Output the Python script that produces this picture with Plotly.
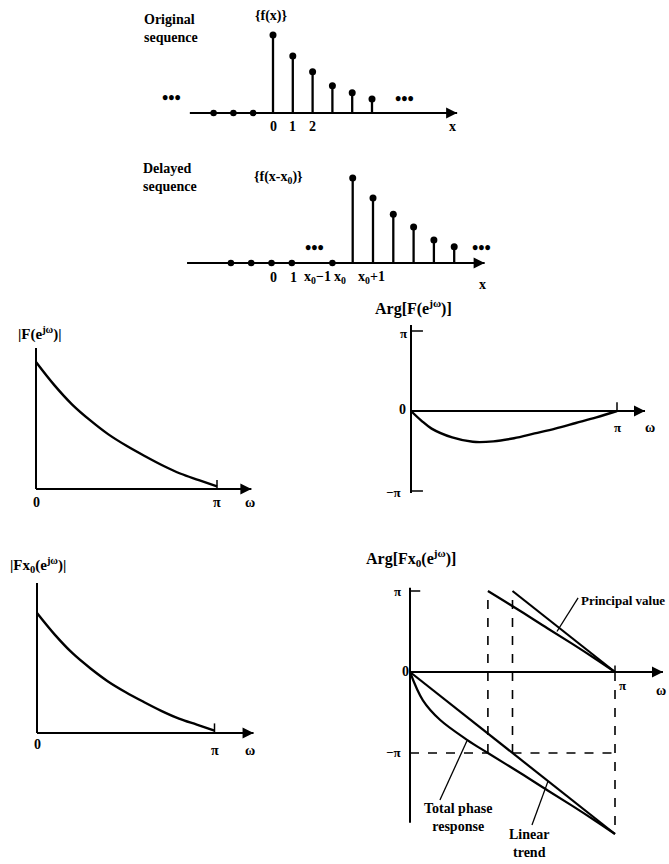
import numpy as np
import plotly.graph_objects as go

W, H = 669, 864

# ---------------- data ----------------
# original sequence f(x)
n_orig = [0, 1, 2, 3, 4, 5]
f_orig = [1.0, 0.73, 0.53, 0.35, 0.26, 0.18]
n_orig_zero = [-3, -2, -1]

# delayed sequence f(x - x0), with x0 = 4
x0 = 4
n_delay = [4, 5, 6, 7, 8, 9]
f_delay = [1.0, 0.765, 0.575, 0.425, 0.27, 0.19]
n_delay_zero = [-2, -1, 0, 1, 3]

# frequency axis in units of pi
w_mag = [0, 0.1, 0.2, 0.3, 0.4, 0.5, 0.6, 0.7, 0.8, 0.9, 1.0]
mag = [1.0, 0.82, 0.665, 0.54, 0.43, 0.34, 0.26, 0.185, 0.12, 0.07, 0.02]

w_arg = [0, 0.05, 0.1, 0.2, 0.3, 0.4, 0.5, 0.6, 0.7, 0.8, 0.9, 1.0]
arg_f = [0, -0.12, -0.22, -0.33, -0.385, -0.38, -0.34, -0.28, -0.22, -0.15, -0.08, 0]

# phase of the delayed sequence (units of pi)
w_total = [0, 0.063, 0.146, 0.28, 0.38, 0.54, 0.67, 0.79, 0.9, 1.0]
total_phase = [0, -0.35, -0.59, -0.84, -1.0, -1.25, -1.46, -1.65, -1.83, -2.0]

w_lin = [0, 0.5, 1.0]
lin_phase = [0, -1.0, -2.0]

# ---------------- helpers ----------------
FONT = "Liberation Serif"
BLACK = "black"


def frame(x_px, x_scale, y_px, y_scale):
    """Axis ranges so that data 0 lands on pixel (x_px, y_px) of the page."""
    xr = [-x_px / x_scale, (W - x_px) / x_scale]
    yr = [(y_px - H) / y_scale, y_px / y_scale]
    return xr, yr


panels = {
    1: frame(273, 19.8, 113, 78),     # original sequence
    2: frame(271.5, 20.3, 263, 85),   # delayed sequence
    3: frame(36, 181, 489, 127),      # |F|
    4: frame(411, 206, 411, 80),      # Arg F
    5: frame(37, 177.5, 733, 120),    # |Fx0|
    6: frame(410, 205, 672, 81),      # Arg Fx0
}

fig = go.Figure()


def ax(i):
    return ("x" if i == 1 else f"x{i}"), ("y" if i == 1 else f"y{i}")


def line(i, xs, ys, width=2.0, dash=None, shape="linear"):
    xa, ya = ax(i)
    fig.add_trace(go.Scatter(
        x=xs, y=ys, mode="lines", xaxis=xa, yaxis=ya, hoverinfo="skip",
        line=dict(color=BLACK, width=width, dash=dash, shape=shape, smoothing=1.0),
        showlegend=False))


def dots(i, xs, ys, size=6.5, symbol="circle"):
    xa, ya = ax(i)
    fig.add_trace(go.Scatter(
        x=xs, y=ys, mode="markers", xaxis=xa, yaxis=ya, hoverinfo="skip",
        marker=dict(color=BLACK, size=size, symbol=symbol, line=dict(width=0)),
        showlegend=False))


def stems(i, n, h):
    xs, ys = [], []
    for a, b in zip(n, h):
        xs += [a, a, None]
        ys += [0, b, None]
    line(i, xs, ys, width=2.3)
    dots(i, n, h, size=7)


def axis_arrow(i, x_from, x_to, width=1.8):
    """Horizontal axis line ending in an arrowhead."""
    line(i, [x_from, x_to], [0, 0], width=width)
    dots(i, [x_to], [0], size=11, symbol="arrow-right")


annotations = []


def text(s, px, py, size=14, xanchor="center", align="center", xref="paper", xval=None):
    annotations.append(dict(
        x=(px / W) if xval is None else xval, y=1 - py / H, xref=xref, yref="paper",
        text=s, showarrow=False, xanchor=xanchor, yanchor="middle", align=align,
        font=dict(family=FONT, size=size, color=BLACK, weight="bold")))


ELL = "•••"

# ---------------- panel 1: original sequence ----------------
axis_arrow(1, -4.2, 9.3)
stems(1, n_orig, f_orig)
dots(1, n_orig_zero, [0] * len(n_orig_zero))
text("Original<br>sequence", 142, 29, size=14, xanchor="left", align="left")
text("{f(x)}", 271, 16, size=14)
text(ELL, 171, 98, size=18)
text(ELL, 404, 99, size=18)
for k in n_orig[:3]:
    text(str(k), 0, 127, size=14, xref="x", xval=k)
text("x", 452, 127, size=14)

# ---------------- panel 2: delayed sequence ----------------
axis_arrow(2, -4.16, 10.5)
stems(2, n_delay, f_delay)
dots(2, n_delay_zero, [0] * len(n_delay_zero))
text("Delayed<br>sequence", 141, 177, size=14, xanchor="left", align="left")
text("{f(x-x<sub>0</sub>)}", 278, 178, size=14)
text(ELL, 314, 248, size=18)
text(ELL, 481, 248, size=18)
for s, p in [("0", 273), ("1", 293), ("x<sub>0</sub>−1", 317),
             ("x<sub>0</sub>", 340), ("x<sub>0</sub>+1", 371)]:
    text(s, p, 277, size=14)
text("x", 482, 284, size=14)

# ---------------- panel 3: |F| ----------------
line(3, [0, 0], [0, 1.11])
axis_arrow(3, 0, 1.19)
line(3, [1, 1], [0, 0.07], width=1.5)
line(3, w_mag, mag, width=2.4, shape="spline")
text("|F(e<sup>jω</sup>)|", 40, 333, size=15)
text("0", 36, 502, size=14)
text("π", 217, 502, size=14)
text("ω", 250, 502, size=14)

# ---------------- panel 4: Arg F ----------------
line(4, [0, 0], [-1.025, 1.075])
line(4, [0, 0.058], [1, 1], width=1.5)
line(4, [0, 0.058], [-1, -1], width=1.5)
axis_arrow(4, 0, 1.136)
line(4, [1, 1], [0, 0.11], width=1.5)
line(4, w_arg, arg_f, width=2.4, shape="spline")
text("Arg[F(e<sup>jω</sup>)]", 413, 308, size=16)
text("π", 403, 333, size=13)
text("−π", 393, 492, size=13)
text("0", 402, 410, size=14)
text("π", 617, 427, size=13)
text("ω", 650, 427, size=14)

# ---------------- panel 5: |Fx0| ----------------
line(5, [0, 0], [0, 1.25])
axis_arrow(5, 0, 1.22)
line(5, [1, 1], [0, 0.08], width=1.5)
line(5, w_mag, mag, width=2.4, shape="spline")
text("|Fx<sub>0</sub>(e<sup>jω</sup>)|", 38, 565, size=15)
text("0", 37, 744, size=14)
text("π", 215, 750, size=14)
text("ω", 250, 750, size=14)

# ---------------- panel 6: Arg Fx0 ----------------
line(6, [0, 0], [1.04, -1.86])
line(6, [0, 0.05], [1, 1], width=1.5)
axis_arrow(6, 0, 1.234)
line(6, [1, 1], [0, 0.08], width=1.5)

# total phase and linear trend
line(6, w_total, total_phase, width=2.2, shape="spline")
line(6, w_lin, lin_phase, width=2.2)

# principal values: wrap back into (-pi, pi]
i_t = next(k for k, v in enumerate(total_phase) if v <= -1.0)
w_c1 = w_total[i_t]
line(6, w_total[i_t:], [v + 2 for v in total_phase[i_t:]], width=2.2, shape="spline")
i_l = next(k for k, v in enumerate(lin_phase) if v <= -1.0)
w_c2 = w_lin[i_l]
line(6, w_lin[i_l:], [v + 2 for v in lin_phase[i_l:]], width=2.2)

# dashed guides
line(6, [w_c1, w_c1], [-1, 1], width=1.6, dash="dash")
line(6, [w_c2, w_c2], [-1, 1], width=1.6, dash="dash")
line(6, [1, 1], [0, lin_phase[-1]], width=1.6, dash="dash")
line(6, [0, w_c1], [-1, -1], width=1.6, dash="dash")
line(6, [w_c2, 1], [-1, -1], width=1.6, dash="dash")

# leader lines for the callouts
line(6, [0.82, 0.717], [0.914, 0.50], width=1.3)
line(6, [0.146, 0.278], [-1.58, -0.85], width=1.3)
line(6, [0.595, 0.673], [-1.89, -1.35], width=1.3)

text("Arg[Fx<sub>0</sub>(e<sup>jω</sup>)]", 411, 558, size=16)
text("π", 397, 591, size=13)
text("0", 405, 671, size=14)
text("−π", 393, 752, size=13)
text("π", 622, 685, size=13)
text("ω", 661, 690, size=14)

text("Principal value", 579, 600, size=13, xanchor="left")
text("Total phase<br>response", 458, 817, size=14)
text("Linear<br>trend", 529, 843, size=14)

# ---------------- layout ----------------
layout = dict(
    width=W, height=H, margin=dict(l=0, r=0, t=0, b=0),
    paper_bgcolor="white", plot_bgcolor="rgba(0,0,0,0)",
    showlegend=False, annotations=annotations,
)
for i, (xr, yr) in panels.items():
    xa, ya = ax(i)
    xk = "xaxis" if i == 1 else f"xaxis{i}"
    yk = "yaxis" if i == 1 else f"yaxis{i}"
    layout[xk] = dict(domain=[0, 1], range=xr, visible=False, fixedrange=True, anchor=ya)
    layout[yk] = dict(domain=[0, 1], range=yr, visible=False, fixedrange=True, anchor=xa)

fig.update_layout(**layout)
fig.write_html("out.html")
